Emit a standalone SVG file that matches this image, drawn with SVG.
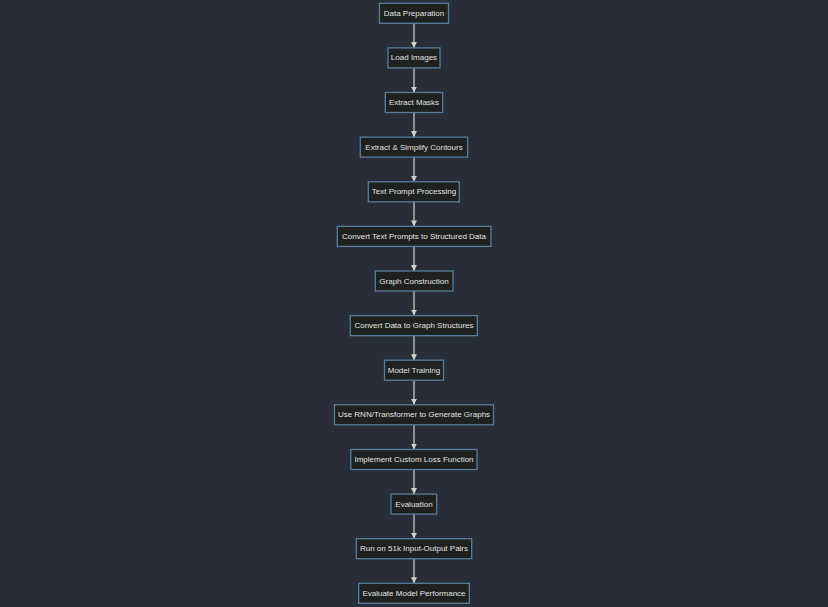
<svg xmlns="http://www.w3.org/2000/svg" width="828" height="607" viewBox="0 0 828 607">
<style>
.node rect{fill:#1f2020;stroke:#5b7d9c;stroke-width:1.3}
.node text{font-family:"Liberation Sans",Arial,sans-serif;font-size:8px;fill:#e2e2e2;text-anchor:middle}
.edges line{stroke:#a9a9ab;stroke-width:1.6}
</style>
<defs>
<marker id="arr" viewBox="0 0 10 10" refX="10" refY="5" markerUnits="userSpaceOnUse" markerWidth="6" markerHeight="6" orient="auto">
<path d="M0,0 L10,5 L0,10 z" fill="#d0d0d0"/>
</marker>
</defs>
<rect width="828" height="607" fill="#292d39"/>
<g class="edges">
<line x1="414" y1="23.3" x2="414" y2="47.9" marker-end="url(#arr)"/>
<line x1="414" y1="67.9" x2="414" y2="92.5" marker-end="url(#arr)"/>
<line x1="414" y1="112.5" x2="414" y2="137.1" marker-end="url(#arr)"/>
<line x1="414" y1="157.1" x2="414" y2="181.8" marker-end="url(#arr)"/>
<line x1="414" y1="201.8" x2="414" y2="226.4" marker-end="url(#arr)"/>
<line x1="414" y1="246.4" x2="414" y2="271.0" marker-end="url(#arr)"/>
<line x1="414" y1="291.0" x2="414" y2="315.6" marker-end="url(#arr)"/>
<line x1="414" y1="335.6" x2="414" y2="360.2" marker-end="url(#arr)"/>
<line x1="414" y1="380.2" x2="414" y2="404.8" marker-end="url(#arr)"/>
<line x1="414" y1="424.8" x2="414" y2="449.5" marker-end="url(#arr)"/>
<line x1="414" y1="469.5" x2="414" y2="494.1" marker-end="url(#arr)"/>
<line x1="414" y1="514.1" x2="414" y2="538.7" marker-end="url(#arr)"/>
<line x1="414" y1="558.7" x2="414" y2="583.3" marker-end="url(#arr)"/>
</g>
<g id="n0" class="node"><rect x="379.5" y="3.3" width="69" height="20"/><text x="414" y="15.8">Data Preparation</text></g>
<g id="n1" class="node"><rect x="388" y="47.9" width="52" height="20"/><text x="414" y="60.4">Load Images</text></g>
<g id="n2" class="node"><rect x="385.3" y="92.5" width="57.4" height="20"/><text x="414" y="105">Extract Masks</text></g>
<g id="n3" class="node"><rect x="360.3" y="137.1" width="107.4" height="20"/><text x="414" y="149.6">Extract &amp; Simplify Contours</text></g>
<g id="n4" class="node"><rect x="368.3" y="181.8" width="91" height="20"/><text x="414" y="194.3">Text Prompt Processing</text></g>
<g id="n5" class="node"><rect x="337.3" y="226.4" width="153.7" height="20"/><text x="414" y="238.9">Convert Text Prompts to Structured Data</text></g>
<g id="n6" class="node"><rect x="375.3" y="271" width="77.7" height="20"/><text x="414" y="283.5">Graph Construction</text></g>
<g id="n7" class="node"><rect x="350.3" y="315.6" width="127" height="20"/><text x="414" y="328.1">Convert Data to Graph Structures</text></g>
<g id="n8" class="node"><rect x="384.5" y="360.2" width="59" height="20"/><text x="414" y="372.7">Model Training</text></g>
<g id="n9" class="node"><rect x="334.5" y="404.8" width="159" height="20"/><text x="414" y="417.3">Use RNN/Transformer to Generate Graphs</text></g>
<g id="n10" class="node"><rect x="350.8" y="449.5" width="126.2" height="20"/><text x="414" y="462">Implement Custom Loss Function</text></g>
<g id="n11" class="node"><rect x="391" y="494.1" width="45.7" height="20"/><text x="414" y="506.6">Evaluation</text></g>
<g id="n12" class="node"><rect x="356.3" y="538.7" width="115.4" height="20"/><text x="414" y="551.2">Run on 51k Input-Output Pairs</text></g>
<g id="n13" class="node"><rect x="358.7" y="583.3" width="110.6" height="20"/><text x="414" y="595.8">Evaluate Model Performance</text></g>
</svg>
